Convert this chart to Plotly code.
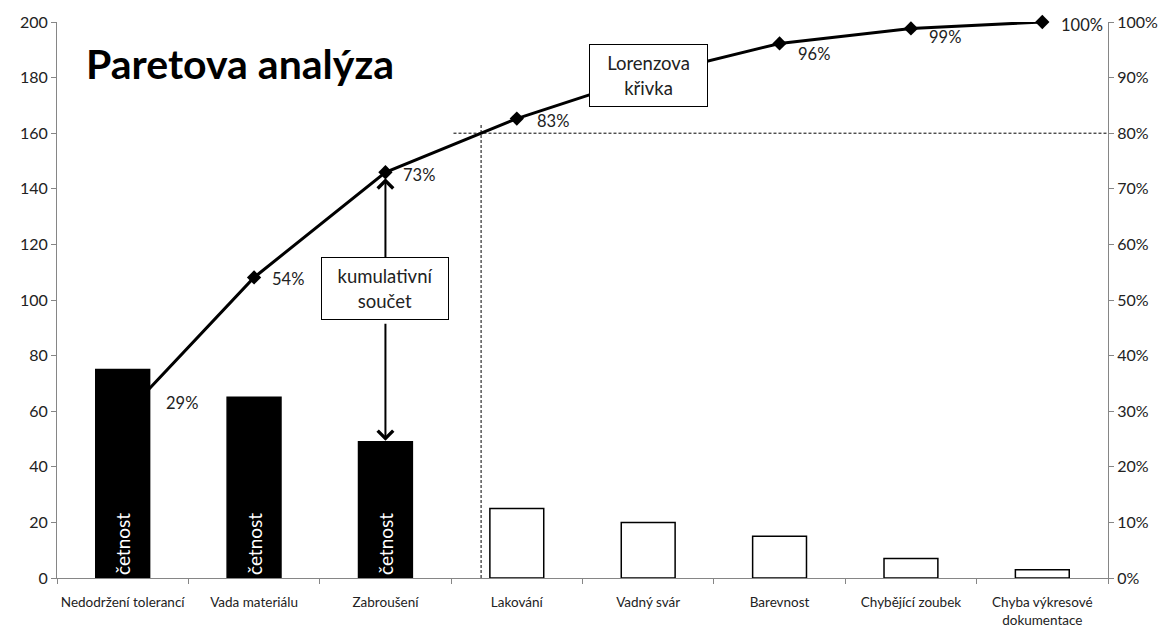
import plotly.graph_objects as go

# ---- data ----
categories = ["Nedodržení tolerancí", "Vada materiálu", "Zabroušení", "Lakování",
              "Vadný svár", "Barevnost", "Chybějící zoubek", "Chyba výkresové<br>dokumentace"]
counts = [75, 65, 49, 25, 20, 15, 7, 3]
bar_text = ["četnost", "četnost", "četnost", "", "", "", "", ""]
vital_few = [True, True, True, False, False, False, False, False]
show_pct = [True, True, True, True, False, True, True, True]
left_ticks = [0, 20, 40, 60, 80, 100, 120, 140, 160, 180, 200]
right_ticks = [0.0, 0.1, 0.2, 0.3, 0.4, 0.5, 0.6, 0.7, 0.8, 0.9, 1.0]
threshold = 0.8
title_text = "Paretova analýza"
box_cum_text = "kumulativní<br>součet"
box_lor_text = "Lorenzova<br>křivka"

total = sum(counts)
cum = []
s = 0
for c in counts:
    s += c
    cum.append(s / total)

# x-position where cumulative curve crosses threshold
cross_x = None
for i in range(1, len(cum)):
    if cum[i - 1] < threshold <= cum[i]:
        cross_x = (i - 1) + (threshold - cum[i - 1]) / (cum[i] - cum[i - 1])
        break

FONT = "Lato"
GRAY = "#868686"
TXT = "#222"

fig = go.Figure()

fig.add_trace(go.Bar(
    x=categories, y=counts, width=0.41,
    marker=dict(color=["black" if v else "white" for v in vital_few],
                line=dict(color="black", width=1.5)),
    text=bar_text, textposition="inside", insidetextanchor="start",
    textangle=-90, textfont=dict(color="white", size=19, family=FONT),
    yaxis="y", showlegend=False, hoverinfo="skip", cliponaxis=False,
))

fig.add_trace(go.Scatter(
    x=categories, y=cum, yaxis="y2", mode="lines+markers",
    line=dict(color="black", width=3),
    marker=dict(symbol="diamond", size=11, color="black"),
    showlegend=False, hoverinfo="skip", cliponaxis=False,
))

# percentage labels
label_shift = [(59, 14), (34, -2), (34, -3), (36, -2), (0, 0), (34, -11), (34, -9), (40, -3)]
for i, p in enumerate(cum):
    if not show_pct[i]:
        continue
    fig.add_annotation(x=categories[i], y=p, yref="y2", text=f"{round(p*100):d}%",
                       showarrow=False, xshift=label_shift[i][0], yshift=label_shift[i][1],
                       font=dict(size=16.5, family=FONT, color=TXT))

# threshold dashed lines
fig.add_shape(type="line", xref="x", yref="y2", x0=cross_x, x1=cross_x, y0=0, y1=threshold + 0.018,
              line=dict(color="black", width=1, dash="3px,2px"))
fig.add_shape(type="line", xref="x", yref="y2", x0=cross_x - 0.21, x1=len(categories) - 0.5,
              y0=threshold, y1=threshold, line=dict(color="black", width=1, dash="3px,2px"))

# double arrow (kumulativní součet)
box_top = 0.574
box_bottom = 92
fig.add_annotation(x=categories[2], y=cum[2], xref="x", yref="y2", ax=categories[2], ay=box_top,
                   axref="x", ayref="y2", text="", showarrow=True, arrowhead=4, arrowsize=1.5,
                   arrowwidth=2, arrowcolor="black", standoff=6)
fig.add_annotation(x=categories[2], y=counts[2], xref="x", yref="y", ax=categories[2], ay=box_bottom,
                   axref="x", ayref="y", text="", showarrow=True, arrowhead=4, arrowsize=1.5,
                   arrowwidth=2, arrowcolor="black", standoff=1)
fig.add_annotation(x=categories[2], y=104, xref="x", yref="y", text=box_cum_text, showarrow=False,
                   width=124, height=59, bgcolor="white", bordercolor="black", borderwidth=1,
                   font=dict(size=18.5, family=FONT, color=TXT))
fig.add_annotation(x=categories[4], y=cum[4], xref="x", yref="y2", text=box_lor_text, showarrow=False,
                   width=115, height=59, bgcolor="white", bordercolor="black", borderwidth=1,
                   font=dict(size=18.5, family=FONT, color=TXT))

# title
fig.add_annotation(x=0.026, y=0.926, xref="paper", yref="paper", xanchor="left", yanchor="middle",
                   text=f"<b>{title_text}</b>", showarrow=False,
                   font=dict(size=41, family=FONT, color="black"))

fig.update_layout(
    width=1174, height=628,
    margin=dict(l=57, r=66, t=22, b=50),
    paper_bgcolor="white", plot_bgcolor="white",
    font=dict(family=FONT, color=TXT),
    xaxis=dict(type="category", range=[-0.5, len(categories) - 0.5], tickson="boundaries",
               ticks="outside", ticklen=5, tickcolor=GRAY, showline=True, linecolor=GRAY,
               linewidth=1, showgrid=False, tickfont=dict(size=13.5, family=FONT, color=TXT),
               tickangle=0, ticklabelstandoff=12, automargin=False),
    yaxis=dict(range=[0, 200], tickvals=left_ticks, ticks="outside", ticklen=5, tickcolor=GRAY,
               showline=True, linecolor=GRAY, showgrid=False, zeroline=False,
               tickfont=dict(size=16, family=FONT, color=TXT)),
    yaxis2=dict(range=[0, 1], tickvals=right_ticks, tickformat=".0%", overlaying="y", side="right",
                ticks="outside", ticklen=5, tickcolor=GRAY, showline=True, linecolor=GRAY,
                showgrid=False, zeroline=False, tickfont=dict(size=16, family=FONT, color=TXT)),
)

fig.write_html("out.html")
